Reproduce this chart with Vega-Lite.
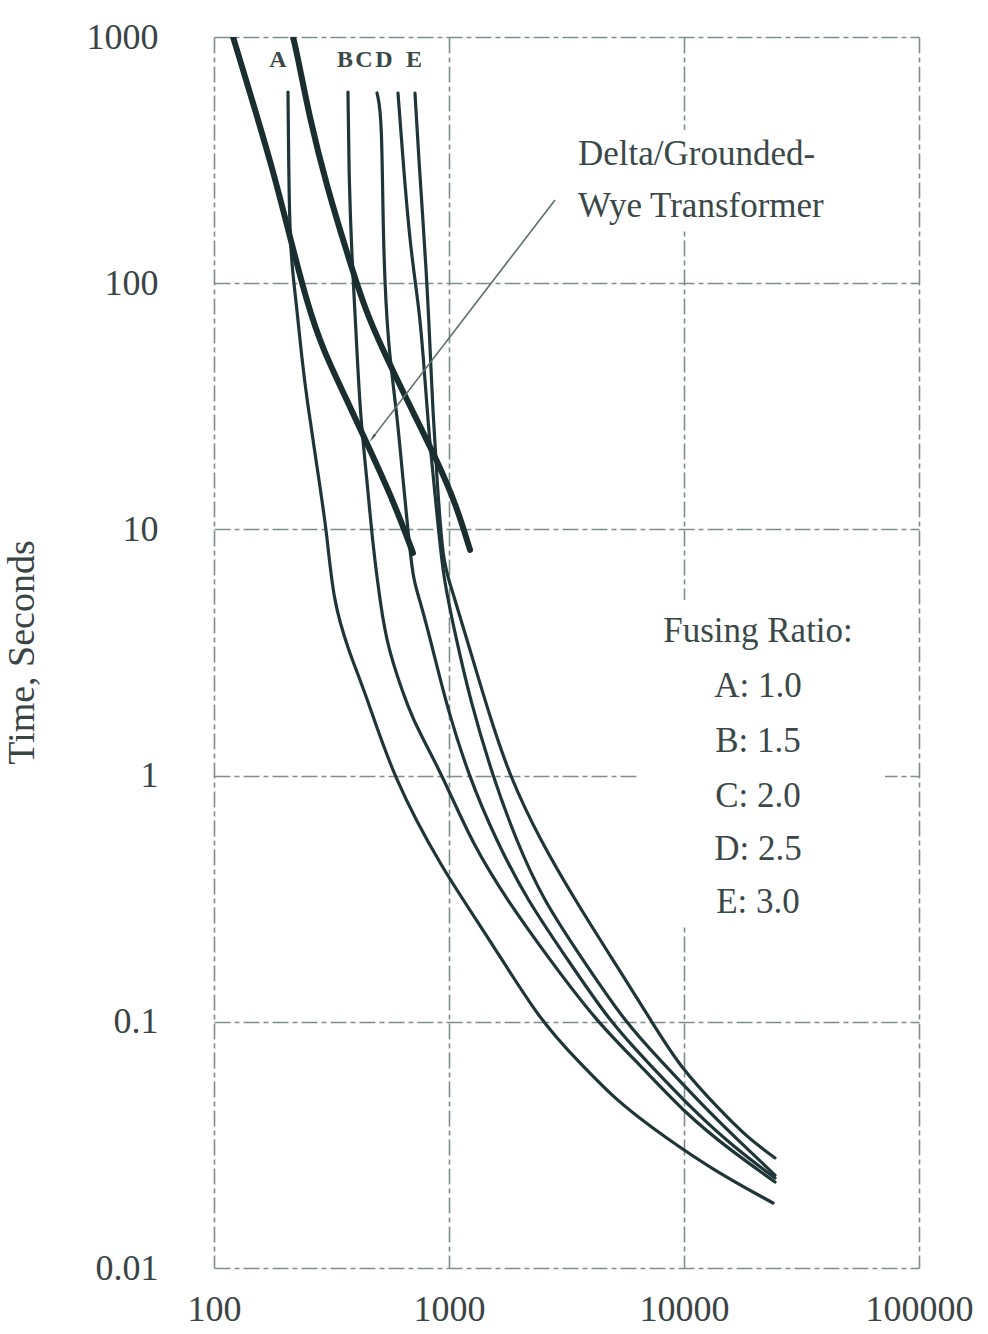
{
  "$schema": "https://vega.github.io/schema/vega-lite/v6.json",
  "usermeta": {"embedOptions": {"actions": false}},
  "autosize": {"type": "none"},
  "padding": {"left": 214, "top": 37, "right": 69, "bottom": 66},
  "width": 705,
  "height": 1231,
  "background": "white",
  "config": {
    "view": {"stroke": null},
    "axis": {
      "grid": true,
      "gridColor": "#7f8d8d",
      "gridDash": [16, 4, 5, 4],
      "gridWidth": 1.6,
      "domain": false,
      "ticks": false,
      "labelFont": "Liberation Serif",
      "labelFontSize": 36,
      "labelColor": "#3a4444",
      "labelFlush": false,
      "labelBound": false,
      "labelOverlap": false
    }
  },
  "datasets": {
    "fuse": [
      {"curve": "A", "i": 0, "amps": 206.5, "seconds": 597.9},
      {"curve": "A", "i": 1, "amps": 208.5, "seconds": 217.7},
      {"curve": "A", "i": 2, "amps": 212.7, "seconds": 124.2},
      {"curve": "A", "i": 3, "amps": 223.3, "seconds": 85.5},
      {"curve": "A", "i": 4, "amps": 236.8, "seconds": 48.8},
      {"curve": "A", "i": 5, "amps": 248.8, "seconds": 33.5},
      {"curve": "A", "i": 6, "amps": 274.4, "seconds": 17.93},
      {"curve": "A", "i": 7, "amps": 302.6, "seconds": 9.67},
      {"curve": "A", "i": 8, "amps": 321.0, "seconds": 5.17},
      {"curve": "A", "i": 9, "amps": 372.0, "seconds": 3.24},
      {"curve": "A", "i": 10, "amps": 447.8, "seconds": 2.086},
      {"curve": "A", "i": 11, "amps": 577.8, "seconds": 0.987},
      {"curve": "A", "i": 12, "amps": 930.0, "seconds": 0.42},
      {"curve": "A", "i": 13, "amps": 1451, "seconds": 0.225},
      {"curve": "A", "i": 14, "amps": 2440, "seconds": 0.1007},
      {"curve": "A", "i": 15, "amps": 3609, "seconds": 0.068},
      {"curve": "A", "i": 16, "amps": 4988, "seconds": 0.0495},
      {"curve": "A", "i": 17, "amps": 6500, "seconds": 0.0405},
      {"curve": "A", "i": 18, "amps": 8139, "seconds": 0.0345},
      {"curve": "A", "i": 19, "amps": 13290, "seconds": 0.025},
      {"curve": "A", "i": 20, "amps": 23920, "seconds": 0.01837},
      {"curve": "B", "i": 0, "amps": 371.7, "seconds": 597.9},
      {"curve": "B", "i": 1, "amps": 375.3, "seconds": 262.6},
      {"curve": "B", "i": 2, "amps": 386.5, "seconds": 124.2},
      {"curve": "B", "i": 3, "amps": 402.0, "seconds": 64.5},
      {"curve": "B", "i": 4, "amps": 418.1, "seconds": 29.7},
      {"curve": "B", "i": 5, "amps": 447.8, "seconds": 15.87},
      {"curve": "B", "i": 6, "amps": 475.0, "seconds": 8.48},
      {"curve": "B", "i": 7, "amps": 508.7, "seconds": 5.17},
      {"curve": "B", "i": 8, "amps": 544.6, "seconds": 3.33},
      {"curve": "B", "i": 9, "amps": 682.3, "seconds": 1.796},
      {"curve": "B", "i": 10, "amps": 752.5, "seconds": 1.489},
      {"curve": "B", "i": 11, "amps": 943.0, "seconds": 0.987},
      {"curve": "B", "i": 12, "amps": 1265, "seconds": 0.5226},
      {"curve": "B", "i": 13, "amps": 1765, "seconds": 0.3126},
      {"curve": "B", "i": 14, "amps": 2690, "seconds": 0.1782},
      {"curve": "B", "i": 15, "amps": 4264, "seconds": 0.0998},
      {"curve": "B", "i": 16, "amps": 6500, "seconds": 0.0668},
      {"curve": "B", "i": 17, "amps": 10300, "seconds": 0.0418},
      {"curve": "B", "i": 18, "amps": 15690, "seconds": 0.0302},
      {"curve": "B", "i": 19, "amps": 24390, "seconds": 0.02235},
      {"curve": "C", "i": 0, "amps": 493.9, "seconds": 592.3},
      {"curve": "C", "i": 1, "amps": 518.8, "seconds": 482.2},
      {"curve": "C", "i": 2, "amps": 523.9, "seconds": 140.3},
      {"curve": "C", "i": 3, "amps": 550.2, "seconds": 55.07},
      {"curve": "C", "i": 4, "amps": 600.6, "seconds": 29.7},
      {"curve": "C", "i": 5, "amps": 637.1, "seconds": 15.87},
      {"curve": "C", "i": 6, "amps": 669.0, "seconds": 9.945},
      {"curve": "C", "i": 7, "amps": 702.8, "seconds": 6.23},
      {"curve": "C", "i": 8, "amps": 752.5, "seconds": 5.17},
      {"curve": "C", "i": 9, "amps": 855.0, "seconds": 3.24},
      {"curve": "C", "i": 10, "amps": 980.6, "seconds": 1.899},
      {"curve": "C", "i": 11, "amps": 1217, "seconds": 0.987},
      {"curve": "C", "i": 12, "amps": 1585, "seconds": 0.5476},
      {"curve": "C", "i": 13, "amps": 2147, "seconds": 0.3126},
      {"curve": "C", "i": 14, "amps": 3209, "seconds": 0.1782},
      {"curve": "C", "i": 15, "amps": 4843, "seconds": 0.0998},
      {"curve": "C", "i": 16, "amps": 7167, "seconds": 0.0668},
      {"curve": "C", "i": 17, "amps": 11140, "seconds": 0.043},
      {"curve": "C", "i": 18, "amps": 16480, "seconds": 0.0307},
      {"curve": "C", "i": 19, "amps": 24390, "seconds": 0.0232},
      {"curve": "D", "i": 0, "amps": 606.7, "seconds": 592.3},
      {"curve": "D", "i": 1, "amps": 631.0, "seconds": 357.5},
      {"curve": "D", "i": 2, "amps": 682.3, "seconds": 140.3},
      {"curve": "D", "i": 3, "amps": 752.5, "seconds": 75.7},
      {"curve": "D", "i": 4, "amps": 790.3, "seconds": 40.45},
      {"curve": "D", "i": 5, "amps": 830.1, "seconds": 21.61},
      {"curve": "D", "i": 6, "amps": 888.9, "seconds": 11.66},
      {"curve": "D", "i": 7, "amps": 943.0, "seconds": 6.41},
      {"curve": "D", "i": 8, "amps": 1060.5, "seconds": 3.795},
      {"curve": "D", "i": 9, "amps": 1229, "seconds": 2.028},
      {"curve": "D", "i": 10, "amps": 1539, "seconds": 0.987},
      {"curve": "D", "i": 11, "amps": 1928, "seconds": 0.5476},
      {"curve": "D", "i": 12, "amps": 2512, "seconds": 0.3126},
      {"curve": "D", "i": 13, "amps": 3717, "seconds": 0.1782},
      {"curve": "D", "i": 14, "amps": 5609, "seconds": 0.0998},
      {"curve": "D", "i": 15, "amps": 7905, "seconds": 0.07},
      {"curve": "D", "i": 16, "amps": 12290, "seconds": 0.0447},
      {"curve": "D", "i": 17, "amps": 17310, "seconds": 0.0325},
      {"curve": "D", "i": 18, "amps": 24390, "seconds": 0.02385},
      {"curve": "E", "i": 0, "amps": 716.6, "seconds": 592.3},
      {"curve": "E", "i": 1, "amps": 738.0, "seconds": 357.5},
      {"curve": "E", "i": 2, "amps": 806.1, "seconds": 103.0},
      {"curve": "E", "i": 3, "amps": 830.1, "seconds": 55.07},
      {"curve": "E", "i": 4, "amps": 855.0, "seconds": 29.7},
      {"curve": "E", "i": 5, "amps": 888.9, "seconds": 15.87},
      {"curve": "E", "i": 6, "amps": 943.0, "seconds": 7.30},
      {"curve": "E", "i": 7, "amps": 1010, "seconds": 6.06},
      {"curve": "E", "i": 8, "amps": 1229, "seconds": 3.24},
      {"curve": "E", "i": 9, "amps": 1494, "seconds": 1.730},
      {"curve": "E", "i": 10, "amps": 1818, "seconds": 0.987},
      {"curve": "E", "i": 11, "amps": 2440, "seconds": 0.5476},
      {"curve": "E", "i": 12, "amps": 3438, "seconds": 0.3126},
      {"curve": "E", "i": 13, "amps": 4988, "seconds": 0.1782},
      {"curve": "E", "i": 14, "amps": 7308, "seconds": 0.0998},
      {"curve": "E", "i": 15, "amps": 9616, "seconds": 0.0655},
      {"curve": "E", "i": 16, "amps": 14230, "seconds": 0.0438},
      {"curve": "E", "i": 17, "amps": 18540, "seconds": 0.034},
      {"curve": "E", "i": 18, "amps": 24390, "seconds": 0.028}
    ],
    "transformer": [
      {"curve": "T1", "i": 0, "amps": 120.5, "seconds": 1000},
      {"curve": "T1", "i": 1, "amps": 146.6, "seconds": 539.5},
      {"curve": "T1", "i": 2, "amps": 178.2, "seconds": 288.3},
      {"curve": "T1", "i": 3, "amps": 210.5, "seconds": 154.1},
      {"curve": "T1", "i": 4, "amps": 248.8, "seconds": 83.1},
      {"curve": "T1", "i": 5, "amps": 290.9, "seconds": 53.5},
      {"curve": "T1", "i": 6, "amps": 368.1, "seconds": 33.5},
      {"curve": "T1", "i": 7, "amps": 461.1, "seconds": 21.0},
      {"curve": "T1", "i": 8, "amps": 577.8, "seconds": 13.16},
      {"curve": "T1", "i": 9, "amps": 702.8, "seconds": 8.02},
      {"curve": "T2", "i": 0, "amps": 216.9, "seconds": 1000},
      {"curve": "T2", "i": 1, "amps": 225.5, "seconds": 861},
      {"curve": "T2", "i": 2, "amps": 256.2, "seconds": 460.2},
      {"curve": "T2", "i": 3, "amps": 302.6, "seconds": 245.8},
      {"curve": "T2", "i": 4, "amps": 368.1, "seconds": 132.7},
      {"curve": "T2", "i": 5, "amps": 440.0, "seconds": 77.8},
      {"curve": "T2", "i": 6, "amps": 523.9, "seconds": 53.5},
      {"curve": "T2", "i": 7, "amps": 662.5, "seconds": 33.5},
      {"curve": "T2", "i": 8, "amps": 888.9, "seconds": 19.14},
      {"curve": "T2", "i": 9, "amps": 1081, "seconds": 12.33},
      {"curve": "T2", "i": 10, "amps": 1229, "seconds": 8.25}
    ],
    "pointer": [
      {"i": 0, "amps": 2826, "seconds": 217.7},
      {"i": 1, "amps": 475.0, "seconds": 23.7}
    ],
    "tips": [
      {"amps": 475.0, "seconds": 23.7}
    ],
    "boxes": [
      {"amps": 6500, "amps2": 71660, "seconds": 0.2473, "seconds2": 5.17},
      {"amps": 3273, "amps2": 68230, "seconds": 164.5, "seconds2": 419.0}
    ],
    "curveLetters": [
      {"t": "A", "amps": 187.2, "seconds": 806.6},
      {"t": "B", "amps": 361.0, "seconds": 806.6},
      {"t": "C", "amps": 434.8, "seconds": 806.6},
      {"t": "D", "amps": 529.1, "seconds": 806.6},
      {"t": "E", "amps": 709.7, "seconds": 806.6}
    ],
    "note": [
      {"t": "Delta/Grounded-", "amps": 3538, "seconds": 302.1},
      {"t": "Wye Transformer", "amps": 3538, "seconds": 185.7}
    ],
    "legendText": [
      {"t": "Fusing Ratio:", "amps": 20650, "seconds": 3.488},
      {"t": "A: 1.0", "amps": 20650, "seconds": 2.086},
      {"t": "B: 1.5", "amps": 20650, "seconds": 1.247},
      {"t": "C: 2.0", "amps": 20650, "seconds": 0.7455},
      {"t": "D: 2.5", "amps": 20650, "seconds": 0.4542},
      {"t": "E: 3.0", "amps": 20650, "seconds": 0.2766}
    ]
  },
  "encoding": {
    "x": {
      "field": "amps",
      "type": "quantitative",
      "scale": {"type": "log", "domain": [100, 100000], "nice": false},
      "axis": {
        "values": [100, 1000, 10000, 100000],
        "format": "~g",
        "labelPadding": 24,
        "title": null
      }
    },
    "y": {
      "field": "seconds",
      "type": "quantitative",
      "scale": {"type": "log", "domain": [0.01, 1000], "nice": false},
      "axis": {
        "values": [0.01, 0.1, 1, 10, 100, 1000],
        "format": "~g",
        "labelPadding": 56,
        "title": "Time, Seconds",
        "titleFont": "Liberation Serif",
        "titleFontSize": 38,
        "titleFontWeight": "normal",
        "titleColor": "#3a4444",
        "titleAngle": 270,
        "titleBaseline": "middle",
        "titleAlign": "center",
        "titleX": -192,
        "titleY": 615
      }
    }
  },
  "layer": [
    {
      "data": {"name": "boxes"},
      "mark": {"type": "rect", "fill": "white", "stroke": null},
      "encoding": {
        "x2": {"field": "amps2"},
        "y2": {"field": "seconds2"}
      }
    },
    {
      "data": {"name": "fuse"},
      "mark": {"type": "line", "color": "#1f3538", "strokeWidth": 3.2, "strokeCap": "round", "strokeJoin": "round", "interpolate": "basis", "clip": true},
      "encoding": {
        "detail": {"field": "curve", "type": "nominal"},
        "order": {"field": "i", "type": "quantitative"}
      }
    },
    {
      "data": {"name": "transformer"},
      "mark": {"type": "line", "color": "#1a2e30", "strokeWidth": 6, "strokeCap": "round", "strokeJoin": "round", "interpolate": "basis", "clip": true},
      "encoding": {
        "detail": {"field": "curve", "type": "nominal"},
        "order": {"field": "i", "type": "quantitative"}
      }
    },
    {
      "data": {"name": "pointer"},
      "mark": {"type": "line", "color": "#5f6e6e", "strokeWidth": 1.6},
      "encoding": {
        "order": {"field": "i", "type": "quantitative"}
      }
    },
    {
      "data": {"name": "tips"},
      "mark": {"type": "point", "shape": "wedge", "angle": 217, "size": 120, "filled": true, "color": "#4a5a5a", "opacity": 1}
    },
    {
      "data": {"name": "curveLetters"},
      "mark": {"type": "text", "font": "Liberation Serif", "fontSize": 24, "fontWeight": "bold", "color": "#3a4848", "align": "center", "baseline": "middle"},
      "encoding": {"text": {"field": "t"}}
    },
    {
      "data": {"name": "note"},
      "mark": {"type": "text", "font": "Liberation Serif", "fontSize": 35, "color": "#3a4848", "align": "left", "baseline": "alphabetic"},
      "encoding": {"text": {"field": "t"}}
    },
    {
      "data": {"name": "legendText"},
      "mark": {"type": "text", "font": "Liberation Serif", "fontSize": 35, "color": "#3a4848", "align": "center", "baseline": "alphabetic"},
      "encoding": {"text": {"field": "t"}}
    }
  ]
}
